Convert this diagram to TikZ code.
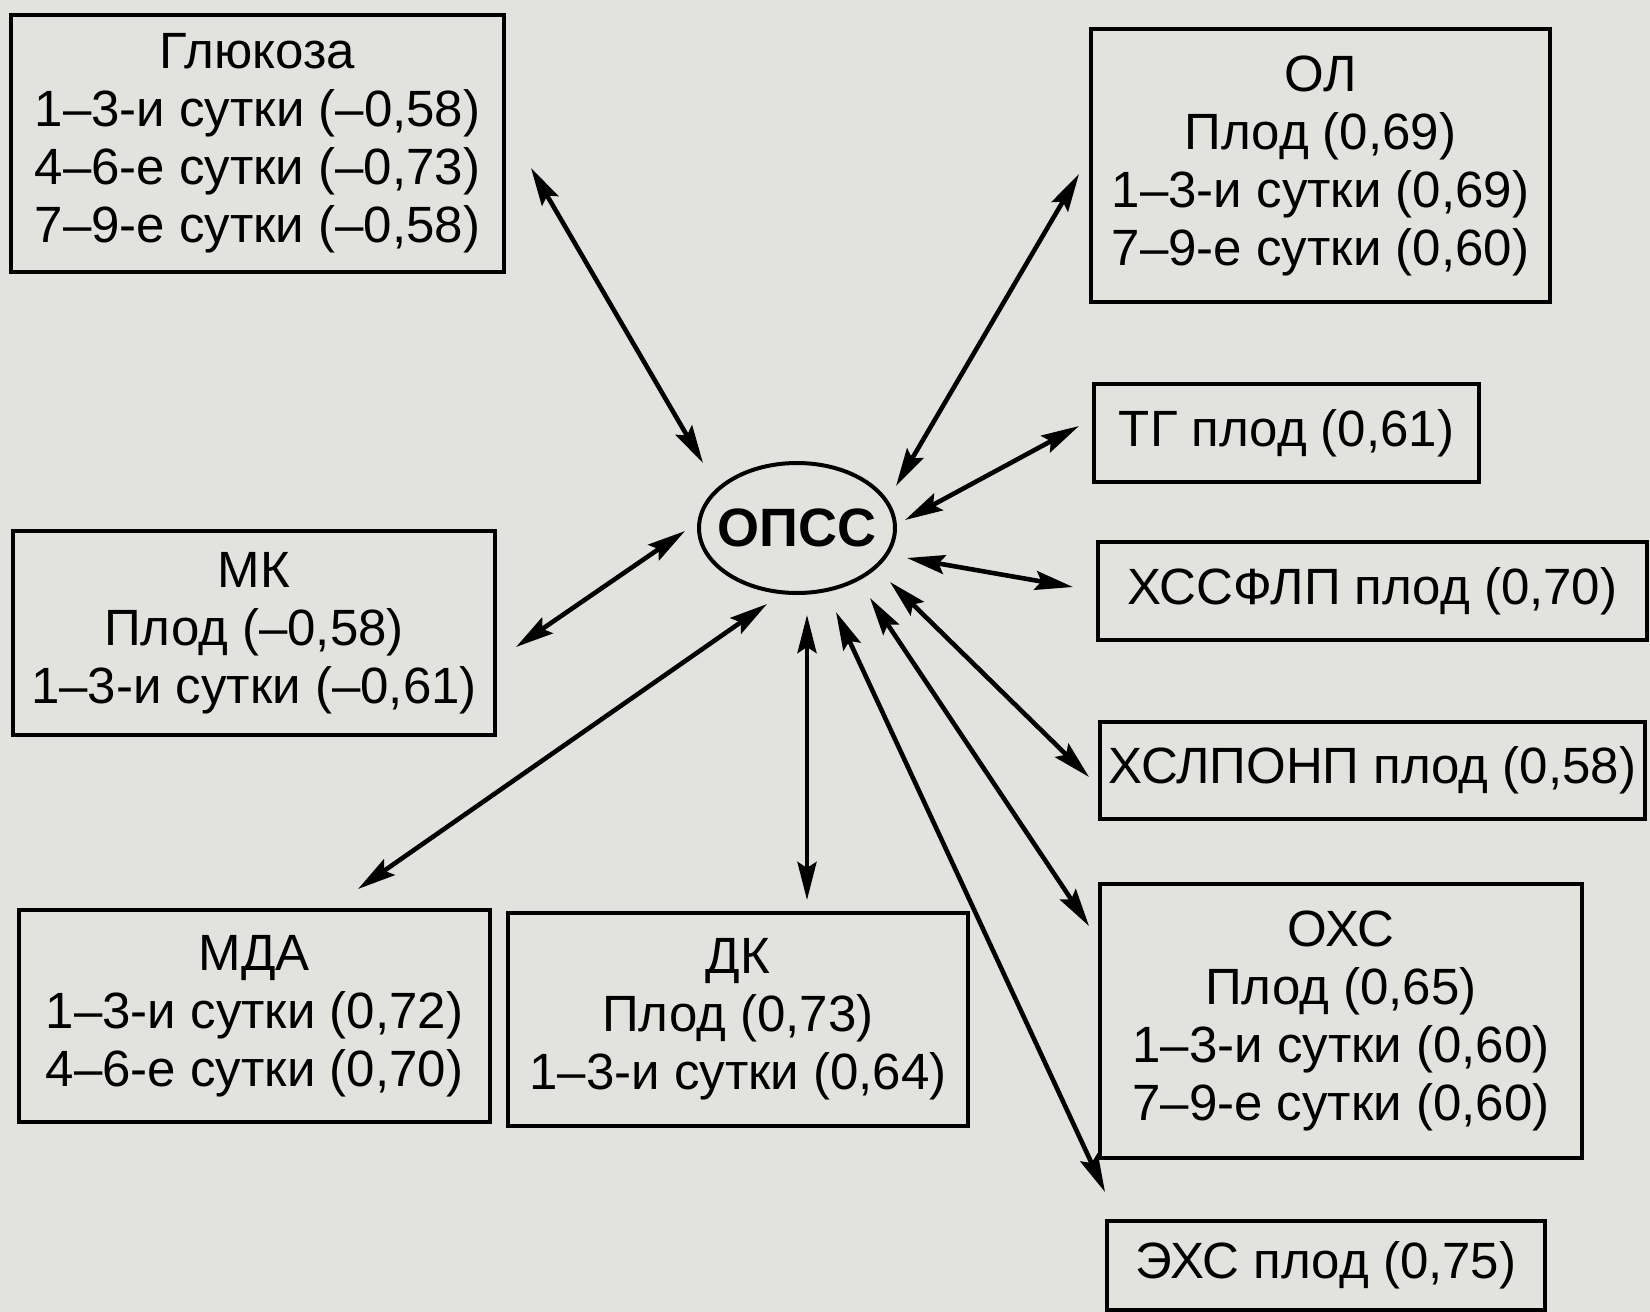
\documentclass[tikz,border=0pt]{standalone}
\usepackage{fontspec}
\setmainfont{Liberation Sans}
\usetikzlibrary{arrows.meta,shapes.geometric}
\definecolor{paper}{RGB}{226,226,223}

\begin{document}
\begin{tikzpicture}[x=0.5pt,y=-0.5pt,
  box/.style={draw,line width=2.3pt,fill=paper,align=center,inner sep=0pt,font=\fontsize{25.5}{29}\selectfont},
  link/.style={{Stealth[length=19pt,width=9.5pt,inset=3pt]}-{Stealth[length=19pt,width=9.5pt,inset=3pt]},line width=2.3pt}]
\fill[paper] (0,0) rectangle (1650,1312);
\useasboundingbox (0,0) rectangle (1650,1312);

\node[draw,ellipse,line width=2pt,minimum width=98pt,minimum height=65pt,inner sep=0pt,font=\fontsize{27}{30}\selectfont\bfseries] (opss) at (797,528) {\makebox[0pt]{ОПСС}};

\node[box,minimum width=246.5pt,minimum height=128.5pt] (glu) at (257.5,143.5) {Глюкоза\\1–3-и сутки (–0,58)\\4–6-е сутки (–0,73)\\7–9-е сутки (–0,58)};
\node[box,minimum width=229.5pt,minimum height=136.5pt] (ol) at (1320.5,165.5) {ОЛ\\Плод (0,69)\\1–3-и сутки (0,69)\\7–9-е сутки (0,60)};
\node[box,minimum width=192.5pt,minimum height=49pt] (tg) at (1286.5,433) {ТГ плод (0,61)};
\node[box,minimum width=274.5pt,minimum height=49pt] (hssflp) at (1372.5,591) {ХССФЛП плод (0,70)};
\node[box,minimum width=272.5pt,minimum height=48.5pt] (hslponp) at (1372.5,770.5) {ХСЛПОНП плод (0,58)};
\node[box,minimum width=241pt,minimum height=137pt] (ohs) at (1341,1021) {ОХС\\Плод (0,65)\\1–3-и сутки (0,60)\\7–9-е сутки (0,60)};
\node[box,minimum width=219pt,minimum height=44.5pt] (ehs) at (1326,1265.5) {ЭХС плод (0,75)};
\node[box,minimum width=241pt,minimum height=102pt] (mk) at (254,633) {МК\\Плод (–0,58)\\1–3-и сутки (–0,61)};
\node[box,minimum width=235.5pt,minimum height=106pt] (mda) at (254.5,1016) {МДА\\1–3-и сутки (0,72)\\4–6-е сутки (0,70)};
\node[box,minimum width=230pt,minimum height=106.5pt] (dk) at (738,1019.5) {ДК\\Плод (0,73)\\1–3-и сутки (0,64)};

\draw[link] ([shift={(-94,-65)}]opss.center) -- ([shift={(273.5,24.5)}]glu.center);
\draw[link] ([shift={(99,-42)}]opss.center) -- ([shift={(-241.5,8.5)}]ol.center);
\draw[link] ([shift={(108,-8)}]opss.center) -- ([shift={(-207.5,-7)}]tg.center);
\draw[link] ([shift={(110,30)}]opss.center) -- ([shift={(-299.5,-4)}]hssflp.center);
\draw[link] ([shift={(93,54)}]opss.center) -- ([shift={(-283.5,6.5)}]hslponp.center);
\draw[link] ([shift={(73,70)}]opss.center) -- ([shift={(-252,-95)}]ohs.center);
\draw[link] ([shift={(39,84)}]opss.center) -- ([shift={(-221,-73.5)}]ehs.center);
\draw[link] ([shift={(10,87)}]opss.center) -- ([shift={(69,-119.5)}]dk.center);
\draw[link] ([shift={(-30,76)}]opss.center) -- ([shift={(103.5,-127)}]mda.center);
\draw[link] ([shift={(-112,3)}]opss.center) -- ([shift={(262,14)}]mk.center);
\end{tikzpicture}
\end{document}
